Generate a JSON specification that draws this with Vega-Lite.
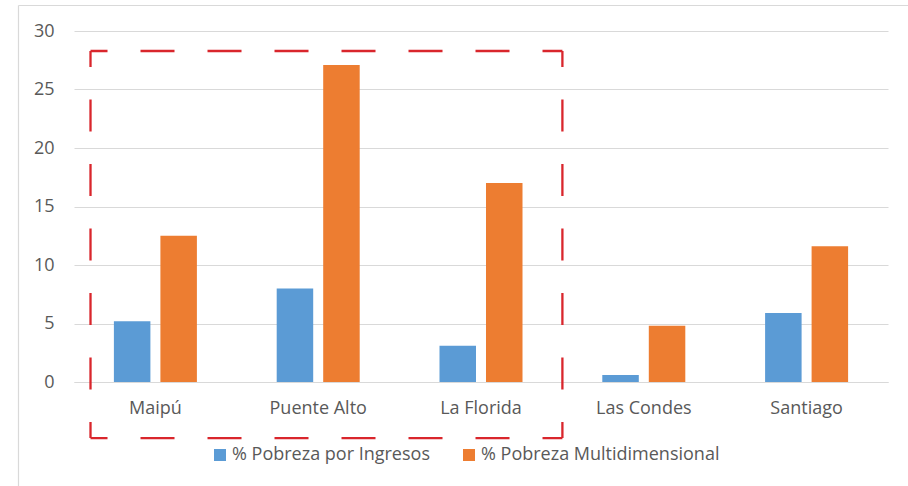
{
  "$schema": "https://vega.github.io/schema/vega-lite/v6.json",
  "width": 814,
  "height": 351,
  "autosize": {"type": "none"},
  "padding": {"left": 74, "top": 31, "right": 20, "bottom": 104},
  "background": "white",
  "config": {
    "view": {"stroke": null},
    "font": "Open Sans",
    "axis": {"labelFont": "Open Sans", "labelColor": "#595959", "labelFontSize": 18},
    "legend": {"labelFont": "Open Sans", "labelColor": "#595959", "labelFontSize": 18}
  },
  "data": {
    "values": [
      {"comuna": "Maipú", "serie": "% Pobreza por Ingresos", "valor": 5.2},
      {"comuna": "Maipú", "serie": "% Pobreza Multidimensional", "valor": 12.5},
      {"comuna": "Puente Alto", "serie": "% Pobreza por Ingresos", "valor": 8.0},
      {"comuna": "Puente Alto", "serie": "% Pobreza Multidimensional", "valor": 27.1},
      {"comuna": "La Florida", "serie": "% Pobreza por Ingresos", "valor": 3.1},
      {"comuna": "La Florida", "serie": "% Pobreza Multidimensional", "valor": 17.0},
      {"comuna": "Las Condes", "serie": "% Pobreza por Ingresos", "valor": 0.6},
      {"comuna": "Las Condes", "serie": "% Pobreza Multidimensional", "valor": 4.8},
      {"comuna": "Santiago", "serie": "% Pobreza por Ingresos", "valor": 5.9},
      {"comuna": "Santiago", "serie": "% Pobreza Multidimensional", "valor": 11.6}
    ]
  },
  "layer": [
    {
      "mark": {"type": "bar"},
      "encoding": {
        "x": {
          "field": "comuna", "type": "nominal", "sort": null,
          "scale": {"paddingInner": 0, "paddingOuter": 0},
          "axis": {"title": null, "labelAngle": 0, "ticks": false, "domainColor": "#D9D9D9", "domainWidth": 1.2, "labelPadding": 17}
        },
        "xOffset": {
          "field": "serie", "type": "nominal",
          "scale": {"domain": ["% Pobreza por Ingresos", "% Pobreza Multidimensional"], "paddingInner": 0.215, "paddingOuter": 0.858}
        },
        "y": {
          "field": "valor", "type": "quantitative",
          "scale": {"domain": [0, 30], "nice": false},
          "axis": {"title": null, "values": [0, 5, 10, 15, 20, 25, 30], "domain": false, "ticks": false, "gridColor": "#D9D9D9", "gridWidth": 1.2, "labelPadding": 20}
        },
        "color": {
          "field": "serie", "type": "nominal",
          "scale": {"domain": ["% Pobreza por Ingresos", "% Pobreza Multidimensional"], "range": ["#5B9BD5", "#ED7D31"]},
          "legend": {"title": null, "orient": "none", "direction": "horizontal", "legendX": 137, "legendY": 415, "symbolType": "square", "symbolSize": 144, "symbolStrokeWidth": 0, "symbolOpacity": 1, "labelOffset": 3, "labelLimit": 0, "columnPadding": 30, "padding": 0}
        }
      }
    },
    {
      "data": {"values": [{}]},
      "mark": {"type": "rule", "color": "#D9262C", "strokeWidth": 2.3, "strokeDash": [34, 33], "strokeDashOffset": 17},
      "encoding": {
        "x": {"datum": 0.1014, "type": "quantitative", "scale": {"domain": [0, 5], "nice": false, "zero": false}, "axis": null},
        "x2": {"datum": 3.0},
        "y": {"datum": 28.29, "type": "quantitative"}
      }
    },
    {
      "data": {"values": [{}]},
      "mark": {"type": "rule", "color": "#D9262C", "strokeWidth": 2.3, "strokeDash": [34, 33], "strokeDashOffset": 17},
      "encoding": {
        "x": {"datum": 0.1014, "type": "quantitative", "scale": {"domain": [0, 5], "nice": false, "zero": false}, "axis": null},
        "x2": {"datum": 3.0},
        "y": {"datum": -4.79, "type": "quantitative"}
      }
    },
    {
      "data": {"values": [{}]},
      "mark": {"type": "rule", "color": "#D9262C", "strokeWidth": 2.3, "strokeDash": [32, 32.5], "strokeDashOffset": 16},
      "encoding": {
        "x": {"datum": 0.1014, "type": "quantitative", "scale": {"domain": [0, 5], "nice": false, "zero": false}, "axis": null},
        "y": {"datum": 28.29, "type": "quantitative"},
        "y2": {"datum": -4.79}
      }
    },
    {
      "data": {"values": [{}]},
      "mark": {"type": "rule", "color": "#D9262C", "strokeWidth": 2.3, "strokeDash": [32, 32.5], "strokeDashOffset": 16},
      "encoding": {
        "x": {"datum": 3.0, "type": "quantitative", "scale": {"domain": [0, 5], "nice": false, "zero": false}, "axis": null},
        "y": {"datum": 28.29, "type": "quantitative"},
        "y2": {"datum": -4.79}
      }
    },
    {
      "data": {"values": [{}]},
      "mark": {"type": "rule", "color": "#D9D9D9", "strokeWidth": 1.2},
      "encoding": {
        "x": {"datum": -0.341, "type": "quantitative", "scale": {"domain": [0, 5], "nice": false, "zero": false}, "axis": null},
        "y": {"datum": 32.18, "type": "quantitative"},
        "y2": {"datum": -9.5}
      }
    },
    {
      "data": {"values": [{}]},
      "mark": {"type": "rule", "color": "#D9D9D9", "strokeWidth": 1.2},
      "encoding": {
        "x": {"datum": -0.341, "type": "quantitative", "scale": {"domain": [0, 5], "nice": false, "zero": false}, "axis": null},
        "x2": {"datum": 5.3},
        "y": {"datum": 32.18, "type": "quantitative"}
      }
    }
  ],
  "resolve": {"scale": {"x": "independent"}}
}
